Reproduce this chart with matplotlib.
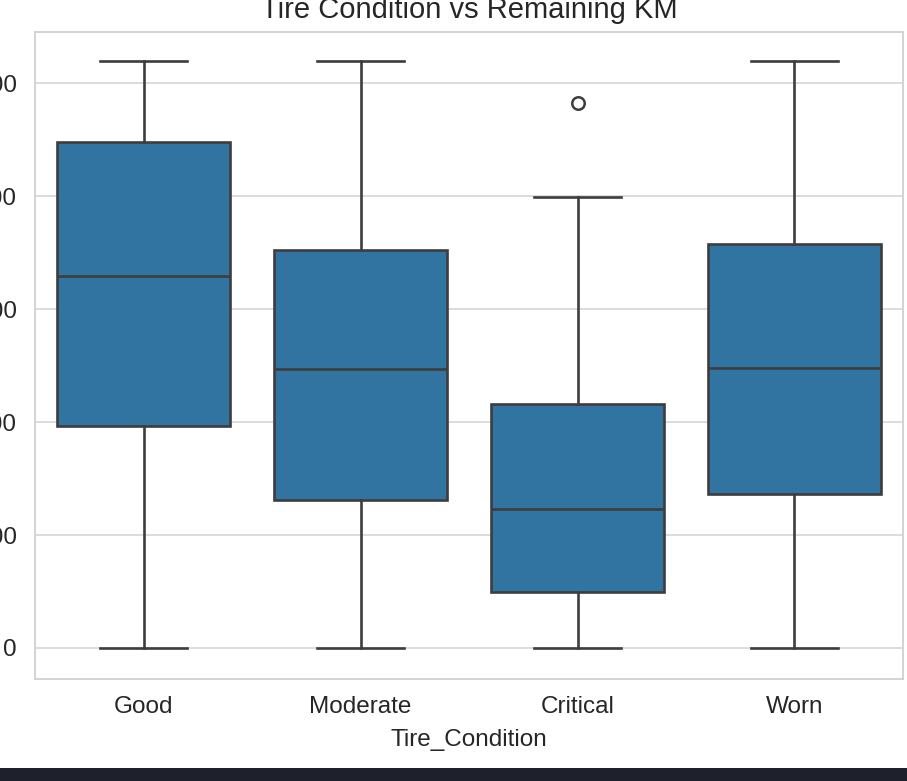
import matplotlib
matplotlib.use("Agg")
import matplotlib.pyplot as plt
from matplotlib.patches import Rectangle

categories = ["Good", "Moderate", "Critical", "Worn"]
whislo = [0, 0, 0, 0]
q1 = [19660, 13110, 4930, 13640]
median = [32920, 24710, 12340, 24800]
q3 = [44860, 35250, 21610, 35780]
whishi = [51990, 51990, 39950, 51990]
fliers = [[], [], [48250], []]
yticks = [0, 10000, 20000, 30000, 40000, 50000]

plt.rcParams['font.family'] = ['Liberation Sans', 'DejaVu Sans']

W, H = 907, 781
fig = plt.figure(figsize=(W / 100, H / 100), dpi=100)
fig.patch.set_facecolor("white")
ax = fig.add_axes([35 / W, (H - 679) / H, (903 - 35) / W, (679 - 32) / H])

stats = []
for i, c in enumerate(categories):
    stats.append(dict(label=c, whislo=whislo[i], q1=q1[i], med=median[i],
                      q3=q3[i], whishi=whishi[i], fliers=fliers[i]))

lc = "#3d3d3d"
lw = 1.9
ax.bxp(stats, positions=range(len(categories)), widths=0.8, capwidths=0.4,
       patch_artist=True, showfliers=True,
       boxprops=dict(facecolor="#3274a1", edgecolor=lc, linewidth=lw),
       medianprops=dict(color=lc, linewidth=lw),
       whiskerprops=dict(color=lc, linewidth=lw),
       capprops=dict(color=lc, linewidth=lw),
       flierprops=dict(marker="o", markerfacecolor="none", markeredgecolor=lc,
                       markersize=9, markeredgewidth=1.8))

ax.set_xlim(-0.5, 3.5)
ax.set_ylim(-2746, 54560)
ax.set_yticks(yticks)
ax.set_yticklabels([str(v) for v in yticks])
ax.set_axisbelow(True)
ax.yaxis.grid(True, color="#d9d9d9", linewidth=1.3)
ax.xaxis.grid(False)
for s in ax.spines.values():
    s.set_color("#d0d0d0")
    s.set_linewidth(1.3)
ax.tick_params(axis="both", length=0, labelsize=17.5, colors="#262626")
ax.tick_params(axis="y", pad=13)
ax.tick_params(axis="x", pad=12)
ax.set_xlabel("Tire_Condition", fontsize=17.5, color="#262626", labelpad=8)
ax.set_title("Tire Condition vs Remaining KM", fontsize=21, color="#262626", pad=10)

fig.add_artist(Rectangle((0, 0), 1, (H - 768) / H, transform=fig.transFigure,
                         facecolor="#1e212b", edgecolor="none"))

fig.savefig("out.png", dpi=100)
